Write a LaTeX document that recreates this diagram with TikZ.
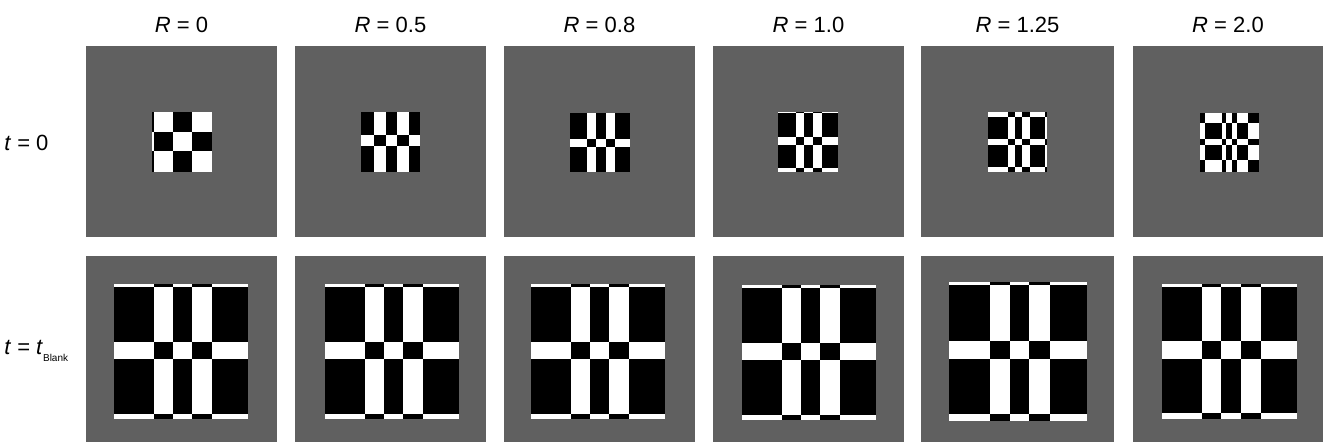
\documentclass[tikz,border=0pt]{standalone}
\usepackage{fontspec}
\setmainfont{Liberation Sans}
\usepackage{xcolor}
\usetikzlibrary{positioning,calc}

\definecolor{panelgray}{RGB}{96,96,96}

% checkerboard: origin x, origin y, column edges, row edges, parity offset
\newcommand{\board}[5]{%
  \foreach \xe [count=\i, remember=\xe as \xp (initially 0)] in {#3} {
    \ifnum\i>1
      \foreach \ye [count=\j, remember=\ye as \yp (initially 0)] in {#4} {
        \ifnum\j>1
          \pgfmathtruncatemacro{\cellpar}{mod(\i+\j+#5,2)}
          \ifnum\cellpar=0
            \fill[white] (#1+\xp,#2+\yp) rectangle (#1+\xe,#2+\ye);
          \else
            \fill[black] (#1+\xp,#2+\yp) rectangle (#1+\xe,#2+\ye);
          \fi
        \fi
      }
    \fi
  }%
}

\begin{document}
\begin{tikzpicture}[x=0.75pt, y=-0.75pt, font=\fontsize{16.5}{19}\selectfont,
    label/.style={inner sep=0pt}]
    \useasboundingbox (0,0) rectangle (1323,442);

    % grey panels
    \foreach \pa/\pb in {86/277,295/486,504/695,713/904,921/1114,1133/1323} {
        \fill[panelgray] (\pa,46) rectangle (\pb,237);
        \fill[panelgray] (\pa,256) rectangle (\pb,442);
    }

    % column labels
    \foreach \rv/\rx [count=\k] in {0/181.5,0.5/390.5,0.8/599.5,1.0/808.5,1.25/1017.5,2.0/1228}
        \node[label] (rlab\k) at (\rx,25) {\textit{R} = \rv};

    % row labels
    \node[label, anchor=west] (tzero) at (4,143) {\textit{t} = 0};
    \node[label, anchor=west] (tblank) at (4,351)
        {\textit{t} = \textit{t}\raisebox{-0.55ex}{\fontsize{7.5}{8}\selectfont Blank}};

    % t = 0
    \board{151.7}{111.7}{0,2,21,40,60}{0,20,39,60}{1}
    \board{360.7}{111.7}{0,13,25,36,48,59}{0,23,34,60}{1}
    \board{570}{113.3}{0,16.7,25.7,35.7,45,60}{0,25.7,34,58.3}{1}
    \board{778.3}{111.7}{0,17.7,26,35,44,60}{0,1.5,25.5,33.2,56.5,59.8}{0}
    \board{987.7}{112.3}{0,20,27.3,34.6,42.3,57.3,59.6}{0,4.3,26.6,32.6,54.3,59.3}{0}
    \board{1200}{112.7}{0,5,21.7,26,31.7,37.4,48.4,59.4}{0,10,26.7,32.4,47.4,59.1}{1}

    % t = t_Blank
    \board{114}{284}{0,39.5,58.5,77.5,98,134}{0,2.5,57.5,75,129.5,134.5}{0}
    \board{325}{284.3}{0,39.5,58.5,77.5,98,134}{0,2.5,57.5,75,129.5,134.5}{0}
    \board{531}{284}{0,39.5,58.5,77.5,98,134}{0,2.5,57.5,75,129.5,134.5}{0}
    \board{742.3}{285}{0,39.5,58.5,77.5,98,134}{0,2.5,57.5,75,129.5,134.5}{0}
    \board{948.7}{282}{0,41.7,61,80.7,101.7,138.3}{0,3.3,59,77.3,132.3,139}{0}
    \board{1162}{284.3}{0,40,59.3,79,99.3,135}{0,2.3,56.6,74.9,128.9,134.2}{0}
\end{tikzpicture}
\end{document}
